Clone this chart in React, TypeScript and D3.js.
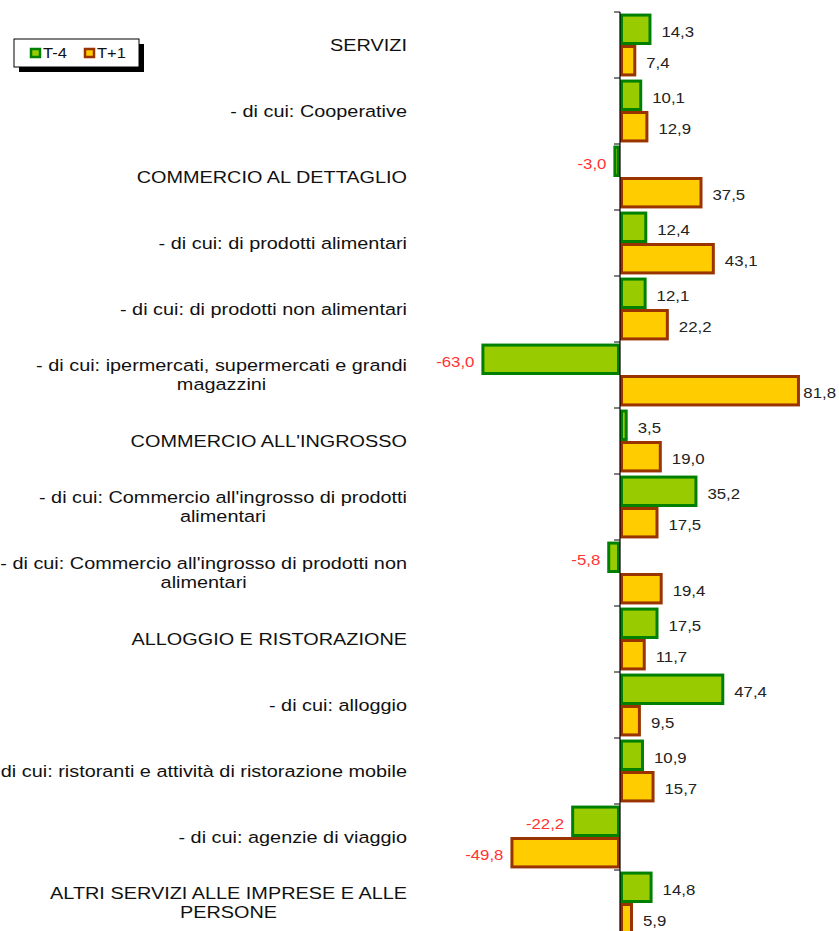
import React, { useEffect, useRef } from "react";
import * as d3 from "d3";

const categories: string[] = [
  "SERVIZI",
  "- di cui: Cooperative",
  "COMMERCIO AL DETTAGLIO",
  "- di cui: di prodotti alimentari",
  "- di cui: di prodotti non alimentari",
  "- di cui: ipermercati, supermercati e grandi\nmagazzini",
  "COMMERCIO ALL'INGROSSO",
  "- di cui: Commercio all'ingrosso di prodotti\nalimentari",
  "- di cui: Commercio all'ingrosso di prodotti non\nalimentari",
  "ALLOGGIO E RISTORAZIONE",
  "- di cui: alloggio",
  "- di cui: ristoranti e attività di ristorazione mobile",
  "- di cui: agenzie di viaggio",
  "ALTRI SERVIZI ALLE IMPRESE E ALLE\nPERSONE",
];
const seriesNames: string[] = ["T-4", "T+1"];
const valuesT4: number[] = [14.3, 10.1, -3.0, 12.4, 12.1, -63.0, 3.5, 35.2, -5.8, 17.5, 47.4, 10.9, -22.2, 14.8];
const valuesT1: number[] = [7.4, 12.9, 37.5, 43.1, 22.2, 81.8, 19.0, 17.5, 19.4, 11.7, 9.5, 15.7, -49.8, 5.9];

const fills = ["#99CC00", "#FFCC00"];
const strokes = ["#008000", "#993300"];

export default function App() {
  const ref = useRef<SVGSVGElement>(null);
  useEffect(() => {
    const svg = d3.select(ref.current);
    svg.selectAll("*").remove();
    const x = d3.scaleLinear().domain([-100, 100]).range([400, 840]);
    const y = d3.scaleBand<number>().domain(d3.range(categories.length)).range([12, 12 + 66 * categories.length]).padding(0);
    const inner = d3.scaleBand<number>().domain([0, 1]).range([0, y.bandwidth()]).paddingOuter(0.05).paddingInner(0);
    const fmt = (v: number) => v.toFixed(1).replace(".", ",");
    const font = "'Liberation Sans', Arial, sans-serif";
    const SX = 1.205;

    const addText = (parent: any, ax: number, ay: number, str: string, size: number, anchor: string, fill: string, sx = SX) => {
      const gg = parent.append("g").attr("transform", `translate(${ax},${ay}) scale(${sx},1)`);
      const t = gg.append("text")
        .attr("x", 0)
        .attr("y", 0)
        .attr("dy", "0.35em")
        .attr("text-anchor", anchor)
        .attr("font-family", font)
        .attr("font-size", size)
        .attr("fill", fill)
        .text(str);
      return { g: gg, t };
    };

    const data = categories.map((c, i) => ({ c, i, vals: [valuesT4[i], valuesT1[i]] }));

    const g = svg.append("g");
    data.forEach((d) => {
      d.vals.forEach((v, s) => {
        const y0 = (y(d.i) as number) + (inner(s) as number);
        const h = inner.bandwidth();
        const x0 = Math.min(x(0), x(v));
        const w = Math.abs(x(v) - x(0));
        g.append("rect")
          .attr("x", x0 + 1.5)
          .attr("y", y0 + 1.5)
          .attr("width", Math.max(w - 3, 0.5))
          .attr("height", h - 3)
          .attr("fill", fills[s])
          .attr("stroke", strokes[s])
          .attr("stroke-width", 3);
        const lbl = fmt(v);
        if (v >= 0) {
          const { t, g: tg } = addText(g, 0, y0 + h / 2 + 2, lbl, 15, "start", "#222", 1.12);
          const wdt = (t.node() as SVGTextElement).getComputedTextLength() * 1.12;
          const lx = Math.min(x(v) + 10, 836 - wdt);
          tg.attr("transform", `translate(${lx},${y0 + h / 2 + 2}) scale(1.12,1)`);
        } else {
          addText(g, x(v) - 7, y0 + h / 2 + 2, lbl, 15, "end", "#FF3333", 1.12);
        }
      });
    });

    const [r0, r1] = y.range();
    svg.append("line").attr("x1", x(0)).attr("x2", x(0)).attr("y1", r0).attr("y2", r1).attr("stroke", "#000").attr("stroke-width", 1.2);
    d3.range(categories.length + 1).forEach((k) => {
      const yy = r0 + k * y.step();
      svg.append("line").attr("x1", x(0) - 6).attr("x2", x(0)).attr("y1", yy).attr("y2", yy).attr("stroke", "#000").attr("stroke-width", 1);
    });

    const labelRight = 407;
    data.forEach((d) => {
      const lines = d.c.split("\n");
      const cy = (y(d.i) as number) + y.bandwidth() / 2;
      const lh = 19;
      const startY = cy - ((lines.length - 1) * lh) / 2;
      const items = lines.map((ln, li) => addText(svg, labelRight, startY + li * lh, ln, 16.5, "end", "#111"));
      if (lines.length > 1) {
        const widths = items.map((it) => (it.t.node() as SVGTextElement).getComputedTextLength() * SX);
        const maxW = Math.max(...widths);
        const center = labelRight - maxW / 2;
        items.forEach((it, li) => {
          it.g.attr("transform", `translate(${center},${startY + li * lh}) scale(${SX},1)`);
          it.t.attr("text-anchor", "middle");
        });
      }
    });

    const lg = svg.append("g");
    lg.append("rect").attr("x", 19).attr("y", 44).attr("width", 125).attr("height", 28).attr("fill", "#000");
    lg.append("rect").attr("x", 14).attr("y", 39).attr("width", 125).attr("height", 28).attr("fill", "#fff").attr("stroke", "#000").attr("stroke-width", 1);
    const lx = [31, 85];
    seriesNames.forEach((n, s) => {
      lg.append("rect").attr("x", lx[s]).attr("y", 49).attr("width", 9).attr("height", 8).attr("fill", fills[s]).attr("stroke", strokes[s]).attr("stroke-width", 2.5);
      addText(lg, lx[s] + 12, 53, n, 14, "start", "#111", 1.18);
    });
  }, []);
  return (
    <svg ref={ref} width={839} height={931} style={{ position: "absolute", left: 0, top: 0, background: "#fff" }} />
  );
}
